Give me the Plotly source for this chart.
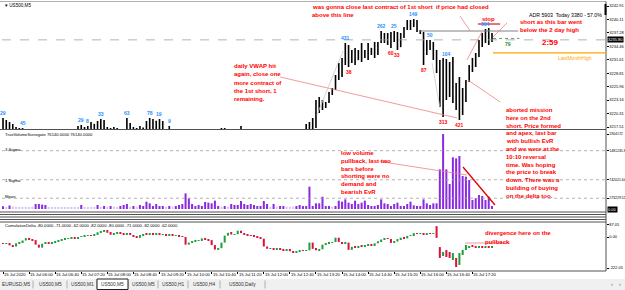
import plotly.graph_objects as go

W, H = 625, 290

# ---------------- data ----------------
tick_idx = list(range(0, 145, 8))
tick_text = ["15 Jul 2020", "15 Jul 06:00", "15 Jul 06:40", "15 Jul 07:20", "15 Jul 08:00",
             "15 Jul 08:40", "15 Jul 09:20", "15 Jul 10:00", "15 Jul 10:40", "15 Jul 11:20",
             "15 Jul 12:00", "15 Jul 12:40", "15 Jul 13:20", "15 Jul 14:00", "15 Jul 14:40",
             "15 Jul 15:20", "15 Jul 16:00", "15 Jul 16:40", "15 Jul 17:20"]

opens = [3216.0, 3218.5, 3216.4, 3217.8, 3215.6, 3216.9, 3214.9, 3215.7, 3214.2, 3215.1,
         3214.5, 3215.8, 3214.8, 3213.9, 3214.9, 3215.3, 3214.7, 3215.6, 3216.2, 3214.6,
         3214.1, 3214.9, 3215.5, 3216.0, 3217.0, 3216.0, 3216.8, 3215.9, 3218.0, 3216.8,
         3218.4, 3217.5, 3216.9, 3215.8, 3216.6, 3215.7, 3216.3, 3215.0, 3216.4, 3218.2,
         3216.3, 3215.9, 3216.6, 3217.2, 3215.8, 3218.3, 3217.4, 3218.6, 3216.7, 3218.5,
         3216.5, 3215.2, 3215.6, 3214.0, 3213.1, 3212.2, 3210.4, 3208.1, 3210.3, 3211.1,
         3211.6, 3212.5, 3212.9, 3214.3, 3214.9, 3215.5, 3214.6, 3216.2, 3216.6, 3215.9,
         3215.2, 3215.7, 3215.1, 3216.3, 3216.0, 3214.8, 3214.0, 3213.3, 3213.9, 3213.5,
         3213.0, 3212.0, 3212.6, 3212.8, 3213.5, 3213.2, 3213.8, 3214.2, 3214.0, 3214.4,
         3214.7, 3215.0, 3215.6, 3215.8, 3217.6, 3215.6, 3218.9, 3222.8, 3221.3, 3222.6,
         3222.7, 3224.5, 3225.5, 3228.1, 3230.6, 3230.9, 3234.5, 3231.1, 3233.2, 3231.7,
         3233.3, 3233.5, 3232.3, 3234.0, 3233.0, 3234.9, 3235.3, 3237.1, 3235.6, 3236.8,
         3235.5, 3237.2, 3234.4, 3236.9, 3238.2, 3239.6, 3238.7, 3239.8, 3237.7, 3237.2,
         3232.8, 3235.3, 3234.0, 3232.0, 3229.3, 3222.4, 3229.5, 3224.0, 3230.6, 3223.2,
         3225.9, 3221.2, 3225.0, 3227.1, 3230.2, 3231.6, 3232.7, 3235.4, 3236.9, 3237.6, 3235.5]
highs = [3219.40, 3218.98, 3218.56, 3218.14, 3217.51, 3217.30, 3217.30, 3216.6, 3215.9, 3216.2,
         3216.4, 3216.7, 3216.0, 3215.5, 3216.1, 3216.5, 3216.3, 3216.95, 3216.4, 3215.8,
         3215.6, 3216.2, 3216.6, 3217.72, 3217.93, 3217.51, 3217.72, 3218.56, 3218.14, 3218.77,
         3219.19, 3218.98, 3217.51, 3217.30, 3217.51, 3217.30, 3216.7, 3216.9, 3219.40, 3218.35,
         3217.51, 3217.30, 3217.72, 3217.40, 3218.77, 3219.40, 3219.19, 3218.80, 3219.19, 3218.77,
         3216.85, 3217.72, 3216.5, 3215.2, 3214.0, 3213.1, 3211.2, 3210.9, 3211.8, 3212.4,
         3213.0, 3213.6, 3214.8, 3215.6, 3216.0, 3216.5, 3216.6, 3217.30, 3217.30, 3216.4,
         3216.1, 3216.5, 3216.6, 3217.72, 3216.5, 3215.6, 3215.0, 3214.4, 3214.8, 3214.3,
         3213.8, 3213.0, 3213.3, 3213.9, 3214.0, 3214.1, 3214.6, 3214.9, 3214.7, 3215.1,
         3215.4, 3215.9, 3216.2, 3218.14, 3218.56, 3219.40, 3223.18, 3223.81, 3223.18, 3222.76,
         3224.86, 3225.70, 3228.43, 3230.95, 3232.00, 3235.14, 3234.72, 3233.68, 3234.09, 3233.68,
         3235.14, 3233.68, 3235.14, 3234.09, 3235.35, 3235.35, 3237.66, 3237.24, 3237.24, 3237.45,
         3237.66, 3237.45, 3237.24, 3238.50, 3239.97, 3239.97, 3240.18, 3239.97, 3237.87, 3237.45,
         3235.77, 3235.77, 3235.35, 3233.68, 3231.58, 3232.00, 3231.79, 3231.16, 3232.21, 3226.75,
         3228.01, 3225.70, 3227.38, 3230.53, 3232.00, 3233.05, 3235.77, 3237.24, 3238.08, 3238.29, 3237.24]
lows = [3215.2, 3215.5, 3215.0, 3214.8, 3214.5, 3214.2, 3213.8, 3213.5, 3213.0, 3213.9,
        3213.2, 3214.0, 3213.1, 3212.6, 3213.8, 3214.2, 3213.9, 3214.5, 3214.0, 3213.4,
        3213.2, 3213.9, 3214.4, 3214.9, 3215.3, 3215.0, 3215.2, 3215.4, 3215.9, 3216.0,
        3216.5, 3216.2, 3215.2, 3214.9, 3215.1, 3214.7, 3214.3, 3214.6, 3215.8, 3215.6,
        3215.0, 3214.8, 3215.3, 3215.0, 3215.4, 3216.6, 3216.8, 3216.1, 3216.3, 3216.0,
        3214.6, 3214.9, 3213.6, 3212.4, 3211.5, 3209.6, 3206.5, 3206.9, 3209.2, 3210.2,
        3210.8, 3211.7, 3212.1, 3213.4, 3213.8, 3214.1, 3214.0, 3215.4, 3215.6, 3214.7,
        3214.2, 3214.6, 3214.5, 3215.5, 3214.3, 3213.5, 3212.7, 3212.4, 3213.0, 3212.6,
        3211.4, 3211.1, 3212.0, 3212.2, 3212.9, 3212.7, 3213.3, 3213.7, 3213.5, 3213.9,
        3214.1, 3214.4, 3214.9, 3215.3, 3214.8, 3215.2, 3217.30, 3220.45, 3221.08, 3221.50,
        3222.55, 3224.23, 3225.28, 3227.38, 3228.01, 3230.53, 3230.11, 3230.95, 3230.53, 3231.58,
        3231.16, 3232.00, 3231.58, 3232.63, 3232.00, 3232.63, 3235.14, 3235.14, 3234.72, 3234.09,
        3235.35, 3233.68, 3234.30, 3236.19, 3237.87, 3237.87, 3238.50, 3237.45, 3237.03, 3230.53,
        3232.63, 3233.68, 3231.58, 3228.85, 3221.71, 3219.61, 3223.18, 3223.81, 3222.55, 3221.08,
        3218.98, 3220.03, 3222.76, 3226.96, 3229.06, 3230.11, 3232.21, 3234.30, 3235.14, 3234.72, 3235.35]
closes = [3218.5, 3216.4, 3217.8, 3215.6, 3216.9, 3214.9, 3215.7, 3214.2, 3215.1, 3214.5,
          3215.8, 3214.8, 3213.9, 3214.9, 3215.3, 3214.7, 3215.6, 3216.2, 3214.6, 3214.1,
          3214.9, 3215.5, 3216.0, 3217.0, 3216.0, 3216.8, 3215.9, 3218.0, 3216.8, 3218.4,
          3217.5, 3216.9, 3215.8, 3216.6, 3215.7, 3216.3, 3215.0, 3216.4, 3218.2, 3216.3,
          3215.9, 3216.6, 3217.2, 3215.8, 3218.3, 3217.4, 3218.6, 3216.7, 3218.5, 3216.5,
          3215.2, 3215.6, 3214.0, 3213.1, 3212.2, 3210.4, 3208.1, 3210.3, 3211.1, 3211.6,
          3212.5, 3212.9, 3214.3, 3214.9, 3215.5, 3214.6, 3216.2, 3216.6, 3215.9, 3215.2,
          3215.7, 3215.1, 3216.3, 3216.0, 3214.8, 3214.0, 3213.3, 3213.9, 3213.5, 3213.0,
          3212.0, 3212.6, 3212.8, 3213.5, 3213.2, 3213.8, 3214.2, 3214.0, 3214.4, 3214.7,
          3215.0, 3215.6, 3215.8, 3217.6, 3215.6, 3219.0, 3222.8, 3221.2, 3222.9, 3222.0,
          3224.5, 3225.4, 3228.1, 3230.6, 3229.0, 3234.6, 3231.0, 3233.2, 3231.2, 3233.3,
          3234.7, 3232.4, 3234.8, 3233.0, 3234.9, 3233.4, 3237.2, 3235.6, 3236.8, 3234.6,
          3237.3, 3234.2, 3236.9, 3238.2, 3239.6, 3238.1, 3239.9, 3237.7, 3237.2, 3231.0,
          3235.3, 3234.0, 3232.0, 3229.3, 3222.4, 3229.5, 3224.0, 3230.6, 3223.2, 3225.9,
          3221.2, 3225.0, 3226.9, 3230.2, 3231.6, 3232.7, 3235.4, 3236.9, 3237.6, 3235.0, 3235.80]

volumes = [70000, 45000, 90000, 60000, 40000, 35000, 40000, 30000, 45000, 60000,
           127000, 127000, 110000, 102000, 50000, 40000, 35000, 45000, 40000, 35000,
           40000, 30000, 35000, 45000, 102000, 40000, 35000, 45000, 50000, 102000,
           45000, 76000, 60000, 76000, 59000, 45000, 76000, 102000, 127000, 59000,
           76000, 59000, 102000, 76000, 186000, 144000, 76000, 127000, 76000, 76000,
           59000, 76000, 59000, 76000, 102000, 127000, 397000, 271000, 127000, 76000,
           102000, 76000, 178000, 161000, 144000, 212000, 76000, 59000, 76000, 59000,
           127000, 102000, 102000, 203000, 127000, 102000, 127000, 102000, 76000, 76000,
           203000, 127000, 59000, 127000, 59000, 76000, 76000, 59000, 59000, 59000,
           76000, 102000, 76000, 76000, 567000, 76000, 144000, 144000, 313000, 76000,
           76000, 59000, 76000, 212000, 186000, 245000, 161000, 127000, 212000, 127000,
           161000, 212000, 102000, 76000, 76000, 102000, 245000, 144000, 127000, 76000,
           127000, 161000, 76000, 76000, 127000, 186000, 93000, 76000, 76000, 245000,
           144000, 102000, 144000, 144000, 1007000, 1904172, 1007000, 635000, 1312000, 1286000,
           1346000, 838000, 821000, 736000, 228000, 271000, 355000, 330000, 228000, 313000, 76000]

delta_open = [-45, -50, -48, -60, -68, -45, -36, -25, -8, -20,
              -22, -55, -76, -48, -42, -44, -36, -33, -25, -21,
              -14, -12, -6, -8, 0, 2, 10, 14, 12, 20,
              34, 42, 50, 30, 16, 26, 29, 22, 20, 24,
              14, 2, -6, 14, 22, 20, 28, 18, 22, 16,
              20, 12, 16, 8, 12, 4, 0, -55, -40, -30,
              -28, -24, -10, -20, -22, -58, -90, -80, -40, 10,
              30, 18, 20, 45, 28, 16, 12, 8, 2, -2,
              -12, -68, -84, -80, -88, -84, -90, -95, -92, -102,
              -110, -104, -98, -100, -95, -40, -85, -95, -88, -55,
              -45, -40, -36, -5, -36, -45, -40, -92, -70, -75,
              -64, -68, -58, -52, -58, -45, -30, -18, -8, -14,
              -42, -32, -15, -5, -10, 8, 14, 28, 22, 24,
              20, 25, 22, 78, -72, -136, -93, -107, -165, -150,
              -200, -129, -93, -72, -64, -70, -72, -68, -74, -70, -72]
delta_close = [-50, -48, -60, -68, -45, -36, -25, -8, -20, -22,
               -55, -76, -48, -42, -44, -36, -33, -25, -21, -14,
               -12, -6, -8, 0, 2, 10, 14, 12, 20, 34,
               42, 50, 30, 16, 26, 29, 22, 20, 24, 14,
               2, -6, 14, 22, 20, 28, 18, 22, 16, 20,
               12, 16, 8, 12, 4, 0, -55, -40, -30, -28,
               -24, -10, -20, -22, -58, -90, -80, -40, 10, 30,
               18, 20, 45, 28, 16, 12, 8, 2, -2, -12,
               -68, -84, -80, -88, -84, -90, -95, -92, -102, -110,
               -104, -98, -100, -95, -40, -85, -95, -88, -55, -45,
               -40, -36, -5, -36, -45, -40, -92, -70, -75, -64,
               -68, -58, -52, -58, -45, -30, -18, -8, -14, -42,
               -32, -15, -5, -10, 8, 14, 28, 22, 24, 20,
               25, 22, 26, -6, -150, -107, -143, -150, -115, -215,
               -115, -93, -57, -64, -70, -72, -68, -74, -70, -72, -69]

price_ticks = [3242.91, 3240.11, 3237.28, 3234.46, 3231.61, 3228.81, 3225.96, 3223.16, 3220.31, 3217.51]
current_price = 3235.80
vol_ticks = [1904172, 1481245.8, 742021.64, 273229.51]
vol_tick_text = ["1904172", "1481245.8", "742021.64", "273229.51"]
vol_levels = {"3 Sigma": 1481245.8, "1 Sigma": 742021.64, "Mean": 273229.51}
delta_ticks = [87.05, 0.0, -222.05]

high_marks = [(0, "29"), (6, "45"), (24, "29"), (26, "8"), (30, "33"), (38, "63"), (45, "78"),
              (48, "19"), (51, "9"), (105, "431"), (116, "262"), (120, "25"), (126, "149"),
              (131, "50"), (136, "104"), (148, "594")]
low_marks = [(106, "38"), (119, "60"), (121, "33"), (129, "87"), (135, "313"), (140, "421")]

two_day_high = 3237.66
last_month_high = 3233.05
stop_level = 3239.13
pending_level = 3236.10

# ---------------- helpers ----------------
def PX(x):
    return x / W

def PY(y):
    return 1 - y / H

X_DOM = [PX(2), PX(606)]
X_RANGE = [-0.31, 184.97]
n = len(closes)
xs = list(range(n))

fig = go.Figure()

fig.add_trace(go.Ohlc(x=xs, open=opens, high=highs, low=lows, close=closes,
                      increasing=dict(line=dict(color="#000000", width=1.6)),
                      decreasing=dict(line=dict(color="#000000", width=1.6)),
                      tickwidth=0.25, xaxis="x", yaxis="y", hoverinfo="skip"))

vcol = ["#D9C4F2" if v < 62000 else "#8A2BE2" for v in volumes]
fig.add_trace(go.Bar(x=xs, y=volumes, marker=dict(color=vcol, line=dict(width=0)),
                     width=0.62, xaxis="x2", yaxis="y2", hoverinfo="skip"))

dcol = ["#1E9E3A" if c >= o else "#E0103C" for o, c in zip(delta_open, delta_close)]
fig.add_trace(go.Bar(x=xs, base=delta_open,
                     y=[c - o if c != o else 1.5 for o, c in zip(delta_open, delta_close)],
                     marker=dict(color=dcol, line=dict(width=0)),
                     width=0.62, xaxis="x3", yaxis="y3", hoverinfo="skip"))

axfont = dict(family="Liberation Sans", size=4.0, color="#000")
axfont_s = dict(family="Liberation Sans", size=3.5, color="#000")
common_x = dict(domain=X_DOM, range=X_RANGE, showgrid=False, zeroline=False,
                showticklabels=False, showline=False, fixedrange=True)
common_y = dict(side="right", ticks="outside", ticklen=1.5, tickcolor="#000",
                showgrid=False, zeroline=False, automargin=False, fixedrange=True)
fig.update_layout(
    width=W, height=H, margin=dict(l=0, r=0, t=0, b=0),
    paper_bgcolor="white", plot_bgcolor="white", showlegend=False,
    font=dict(family="Liberation Sans", size=5, color="#000"),
    xaxis=dict(**common_x, anchor="y", rangeslider=dict(visible=False)),
    xaxis2=dict(**common_x, anchor="y2", matches="x"),
    xaxis3=dict(**common_x, anchor="y3", matches="x", ticks="outside", ticklen=2,
                tickcolor="#000", tickvals=tick_idx),
    yaxis=dict(**common_y, domain=[PY(130), PY(2)], range=[3216.88, 3243.75], anchor="x",
               tickvals=price_ticks, ticktext=[f"{v:.2f}" for v in price_ticks],
               tickfont=axfont),
    yaxis2=dict(**common_y, domain=[PY(212), PY(132)], range=[-76167, 1954953], anchor="x2",
                tickvals=vol_ticks, ticktext=vol_tick_text, tickfont=axfont_s),
    yaxis3=dict(**common_y, domain=[PY(271), PY(222)], range=[-243.4, 107.4], anchor="x3",
                tickvals=delta_ticks, ticktext=["87.05", "0.00", "-222.05"],
                tickfont=axfont),
)

shapes = []
def seg(x0, y0, x1, y1, color, width=1.0, dash="solid", xref="x", yref="y"):
    shapes.append(dict(type="line", x0=x0, y0=y0, x1=x1, y1=y1, xref=xref, yref=yref,
                       line=dict(color=color, width=width, dash=dash)))

# panel borders
seg(0, PY(1.5), PX(606), PY(1.5), "#B0B0B0", 1, xref="paper", yref="paper")
for yy in [129.5, 212, 214.5, 217, 219.5, 222, 271]:
    seg(0, PY(yy), PX(606), PY(yy), "#505050", 1, xref="paper", yref="paper")
seg(PX(606), PY(1.5), PX(606), PY(271), "#505050", 1, xref="paper", yref="paper")
shapes.append(dict(type="rect", xref="paper", yref="paper", x0=PX(604.5), x1=PX(606.5),
                   y0=PY(15), y1=PY(4), fillcolor="#000", line=dict(width=0)))

# price-panel objects
seg(X_RANGE[0], current_price, X_RANGE[1], current_price, "#A0A0A0", 0.8, "dash")
seg(127.9, two_day_high, 158.0, two_day_high, "#808080", 1)
seg(150.3, pending_level, 158.4, pending_level, "#2E8B2E", 0.8, "dot")
seg(150.3, last_month_high, X_RANGE[1], last_month_high, "#FFA500", 1.2)
seg(145.7, stop_level, 152.5, stop_level, "#E04848", 1.5)
seg(85.0, 3228.01, 139.3, 3219.40, "#F08080", 0.8)
seg(140.2, 3240.81, 143.3, 3237.66, "#F08080", 0.8)
seg(154.6, 3239.34, 150.3, 3236.40, "#F08080", 0.8)
seg(152.5, 3222.76, 142.6, 3227.38, "#F08080", 0.8)
seg(142.3, 3231.58, 146.9, 3237.45, "#F08080", 0.8)
seg(96.3, 3220.03, 104.3, 3233.47, "#C8C8C8", 0.8)
seg(131.6, 3230.95, 134.0, 3221.71, "#C8C8C8", 0.8)

# volume-panel objects
for lab, lv in vol_levels.items():
    seg(X_RANGE[0], lv, X_RANGE[1], lv, "#A0A0A0", 0.8, "dot", xref="x2", yref="y2")
seg(115.6, 1206000, 142.3, 863000, "#F08080", 0.8, xref="x2", yref="y2")
seg(141.1, 1066000, 150.9, 102000, "#E00000", 1.3, xref="x2", yref="y2")

# delta-panel objects
seg(141.7, -43, 155.5, -43, "#F08080", 0.8, xref="x3", yref="y3")

# tab bar
shapes.append(dict(type="rect", xref="paper", yref="paper", x0=0, x1=1, y0=0, y1=PY(279),
                   fillcolor="#F0F0F0", line=dict(width=0)))
tab_edges = [0, 33, 67, 97, 128, 158, 188, 220, 265]
tab_names = ["EURUSD,M5", "US500,M5", "US500,M1", "US500,M5", "US500,M5",
             "US500,H1", "US500,H4", "US500,Daily"]
for e in tab_edges[1:]:
    seg(PX(e), PY(280.5), PX(e), PY(288.5), "#A0A0A0", 0.8, xref="paper", yref="paper")
shapes.append(dict(type="rect", xref="paper", yref="paper", x0=PX(97), x1=PX(128),
                   y0=PY(289.5), y1=PY(279), fillcolor="#FFFFFF",
                   line=dict(color="#202020", width=1)))

fig.update_layout(shapes=shapes)

ann = []
def txt(x, y, s, size=5, color="#000", bold=False, xanchor="left", yanchor="middle",
        xref="paper", yref="paper", bg=None, family="Liberation Sans"):
    d = dict(x=x, y=y, xref=xref, yref=yref, text=(f"<b>{s}</b>" if bold else s),
             showarrow=False, xanchor=xanchor, yanchor=yanchor,
             font=dict(family=family, size=size, color=color))
    if bg:
        d.update(bgcolor=bg, borderpad=0)
    ann.append(d)

txt(PX(3), PY(5.5), "▾ US500,M5", size=4.6)
txt(PX(3), PY(134.5), "TrueVolumeSurrogate 76140.0000 76140.0000", size=4.2)
txt(PX(3), PY(225.5), "CumulativeDelta -80.0000 -71.0000 -62.0000 -82.0000 -80.0000 -71.0000 -82.0000 -62.0000", size=4.2)
sigma_y = {"3 Sigma": 149, "1 Sigma": 180, "Mean": 196}
for lab in vol_levels:
    txt(PX(3), PY(sigma_y[lab]), lab, size=4.2)

for i, t in zip(tick_idx, tick_text):
    txt(i - 0.3, PY(274), t, size=4.2, xref="x")

for i, s in high_marks:
    txt(i, highs[i], s, size=5, color="#1E90FF", bold=True, xanchor="center",
        yanchor="bottom", xref="x", yref="y")
for i, s in low_marks:
    txt(i, lows[i], s, size=5, color="#FF0000", bold=True, xanchor="center",
        yanchor="top", xref="x", yref="y")

# current price box
txt(PX(607), current_price, f"{current_price:.2f}", size=4.0, color="#FFFFFF",
    yref="y", bg="#000000")
txt(PX(607), 0, "0.00", size=4.0, color="#FFFFFF", yref="y2", bg="#000000")

RED = "#FF0000"
notes = [
    (310, 7, ["was gonna close last contract of 1st short  if price had closed", "above this line"], 8),
    (232, 66, ["daily VWAP hit", "again, close one", "more contract of", "the 1st short, 1", "remaining."], 8.3),
    (518, 22, ["short as this bar went", "below the 2 day high"], 7.5),
    (504, 110, ["aborted mission", "here on the 2nd", "short. Price formed", "and apex, last bar",
                "with bullish EvR", "and we were at the", "10:10 reversal", "time. Was hoping",
                "the price to break", "down. There was a", "building of buying", "on the delta too."], 7.8),
    (339, 153, ["low volume", "pullback, last two", "bars before", "shorting were no",
                "demand and", "bearish EvR"], 7.8),
    (483, 233, ["divergence here on the", "pullback"], 9),
]
for x0, y0, lines, step in notes:
    for k, s in enumerate(lines):
        txt(PX(x0), PY(y0 + k * step), s, size=6, color=RED, bold=True)

txt(PX(480), PY(19), "stop", size=6, color=RED, bold=True)
txt(PX(540), PY(43), "2:59", size=8, color=RED, bold=True)
txt(PX(527), PY(15), "ADR 5903  Today 3380 - 57.0%", size=5.2)
txt(PX(556), PY(57.5), "LastMonthHigh", size=5, color="#FFA500")
txt(PX(503), PY(44), "79", size=5, color="#2E8B2E", bold=True)

tab_centers = [(a + b) / 2 for a, b in zip(tab_edges[:-1], tab_edges[1:])]
for c, s in zip(tab_centers, tab_names):
    txt(PX(c), PY(284.5), s, size=4.8, color="#333", xanchor="center")
txt(PX(612), PY(284), "‹", size=6, color="#777", xanchor="center")
txt(PX(620), PY(284), "›", size=6, color="#777", xanchor="center")

fig.update_layout(annotations=ann)
fig.write_html("out.html")
